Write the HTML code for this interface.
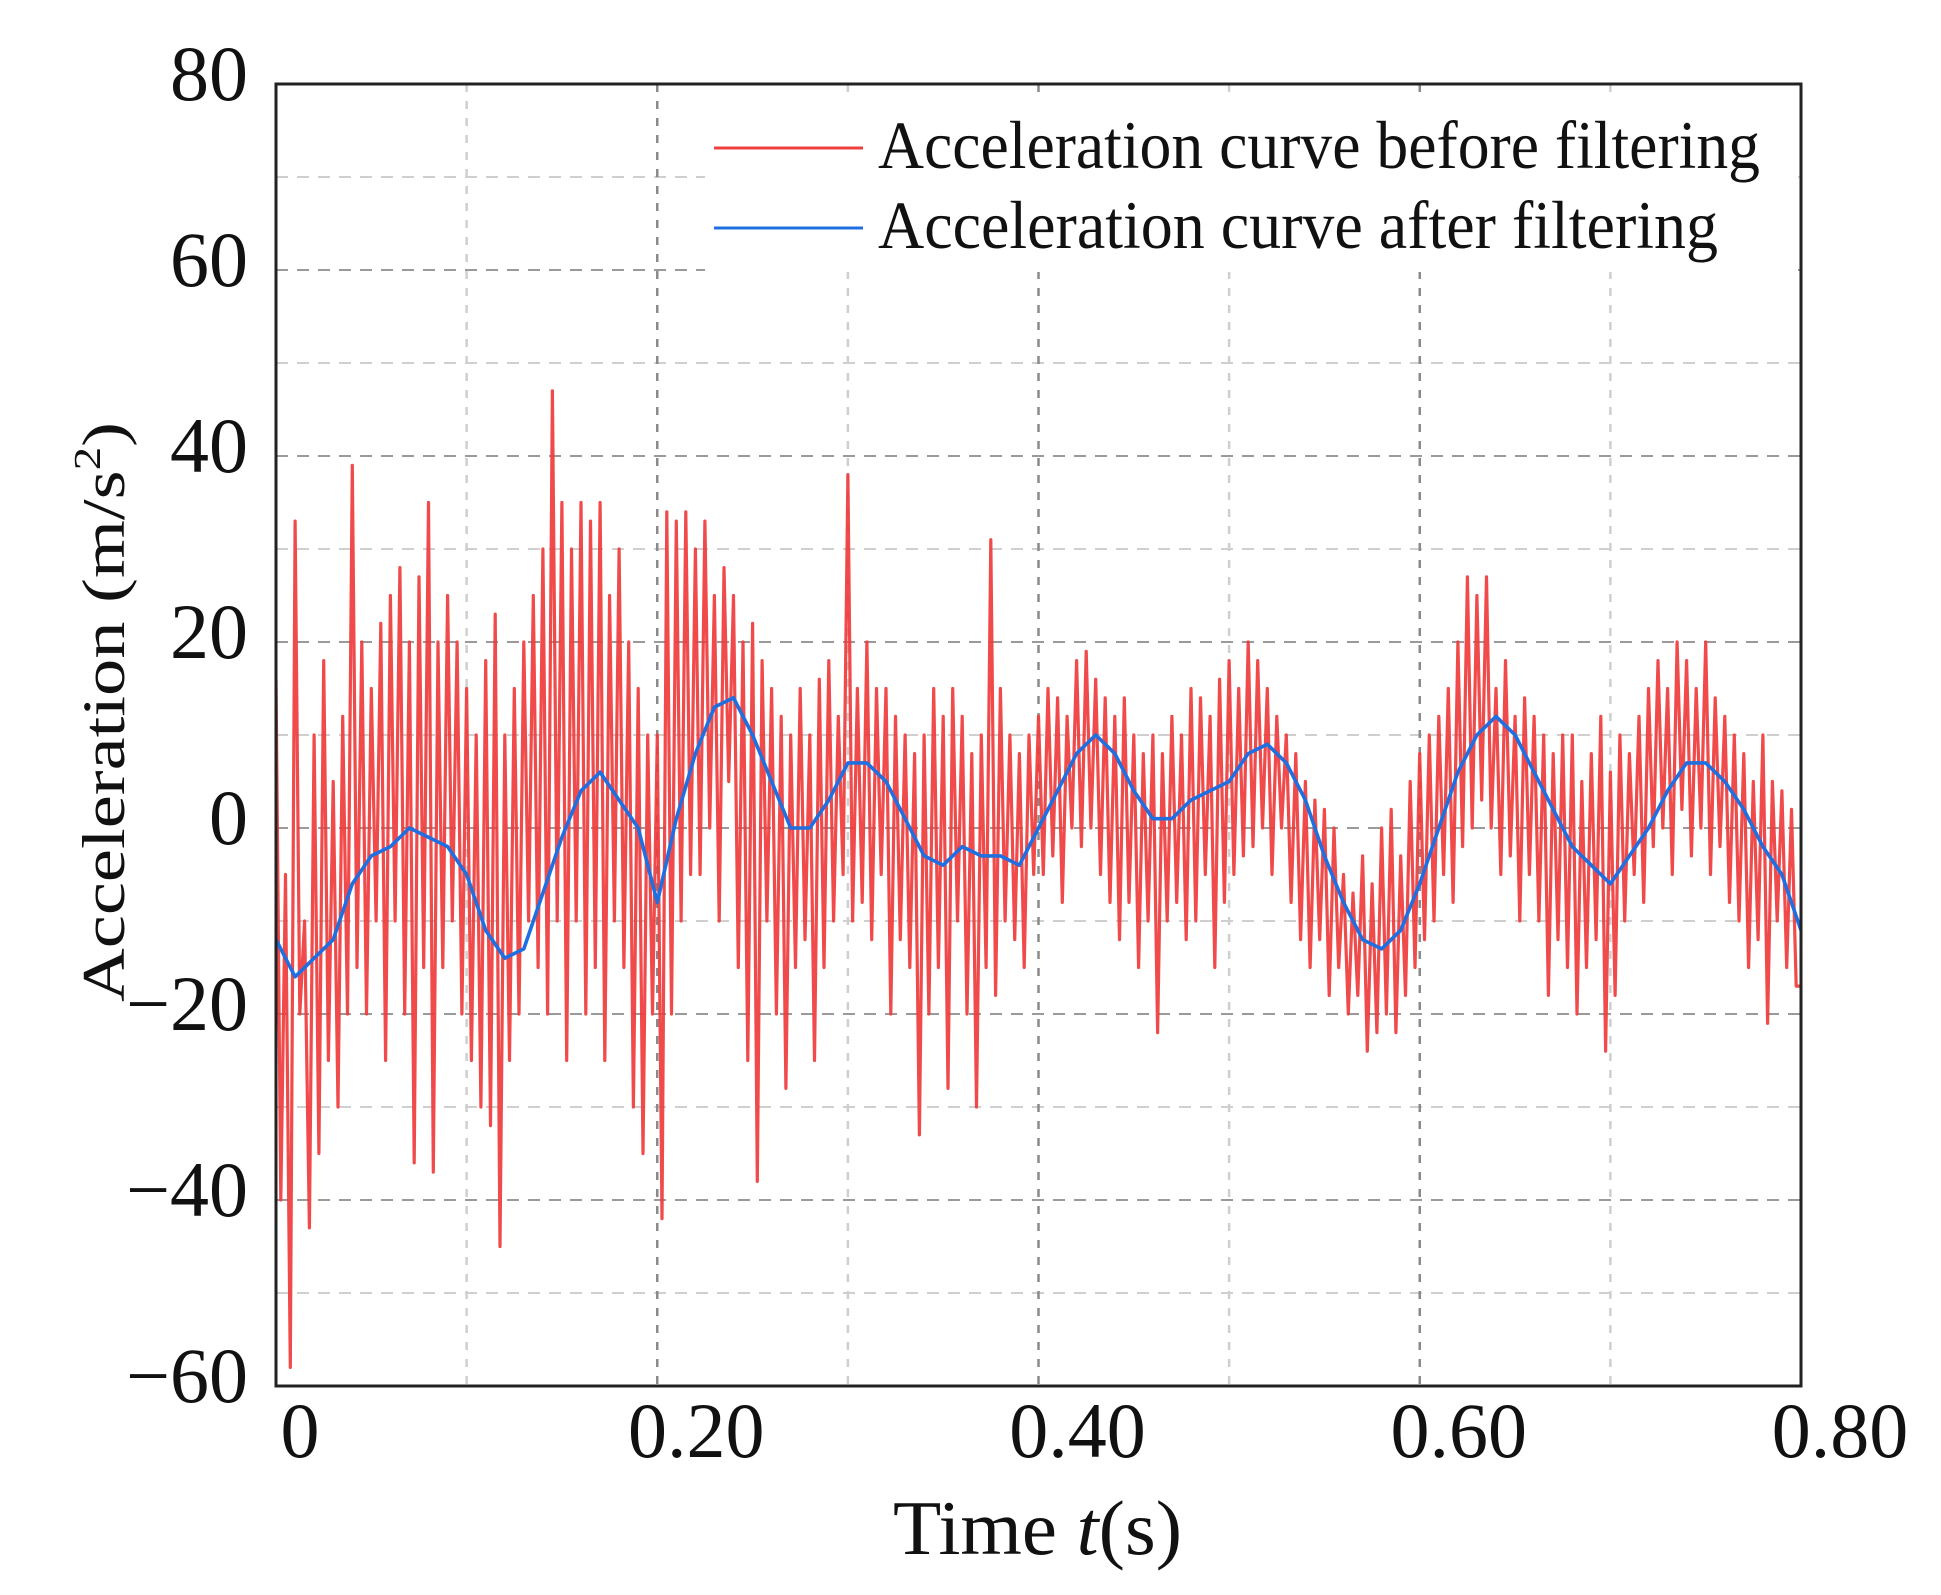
<!DOCTYPE html>
<html><head><meta charset="utf-8"><style>
html,body{margin:0;padding:0;background:#fff;}
svg{display:block;font-family:"Liberation Serif","Times New Roman",serif;}
</style></head><body>
<svg id="chart" width="1941" height="1595" viewBox="0 0 1941 1595" xmlns="http://www.w3.org/2000/svg">
<rect width="1941" height="1595" fill="#fff"/>
<g id="grid"></g>
<g id="series" clip-path="url(#clip)"></g>
<defs><clipPath id="clip"><rect x="276" y="84" width="1525" height="1302"/></clipPath></defs>
<rect x="705" y="92" width="1093" height="180" fill="#fff"/>
<rect x="276" y="84" width="1525" height="1302" fill="none" stroke="#222" stroke-width="3"/>
<g id="ticks"></g>
<g>
  <line x1="714" y1="148" x2="863" y2="148" stroke="#ef4040" stroke-width="3"/>
  <text x="878" y="168" font-size="68" textLength="882" lengthAdjust="spacingAndGlyphs" fill="#111">Acceleration curve before filtering</text>
  <line x1="714" y1="228" x2="863" y2="228" stroke="#1f6fe0" stroke-width="3"/>
  <text x="878" y="248" font-size="68" textLength="840" lengthAdjust="spacingAndGlyphs" fill="#111">Acceleration curve after filtering</text>
</g>
<text x="893" y="1554" font-size="77" textLength="289" lengthAdjust="spacingAndGlyphs" fill="#111">Time <tspan font-style="italic">t</tspan>(s)</text>
<text transform="translate(124,1002) rotate(-90)" x="0" y="0" font-size="60" textLength="580" lengthAdjust="spacingAndGlyphs" fill="#111">Acceleration (m/s<tspan dy="-24" font-size="38">2</tspan><tspan dy="24">)</tspan></text>
</svg>
<script>
const xTicks = [0, 0.2, 0.4, 0.6, 0.8];
const xTickLabels = ["0", "0.20", "0.40", "0.60", "0.80"];
const yTicks = [80, 60, 40, 20, 0, -20, -40, -60];
const yTickLabels = ["80", "60", "40", "20", "0", "\u221220", "\u221240", "\u221260"];
const rawStep = 0.0025;
const rawValues = [
16,-40,-5,-58,33,-20,-10,-43,
10,-35,18,-25,5,-30,12,-20,
39,-15,20,-20,15,-10,22,-25,
25,-10,28,-20,20,-36,27,-15,
35,-37,20,-15,25,-10,20,-20,
15,-25,10,-30,18,-32,23,-45,
10,-25,15,-20,20,-10,25,-15,
30,-20,47,-10,35,-25,30,-10,
35,-20,33,-15,35,-25,25,-10,
30,-15,20,-30,15,-35,10,-20,
10,-42,34,-20,33,-10,34,-5,
30,-5,33,0,25,-10,28,5,
25,-15,20,-25,22,-38,18,-10,
15,-20,12,-28,10,-15,15,-12,
10,-25,16,-15,18,-10,12,-5,
38,-10,15,-8,20,-12,15,-5,
15,-20,12,-12,10,-15,8,-33,
10,-20,15,-15,12,-28,15,-10,
12,-20,8,-30,10,-15,31,-18,
15,-10,10,-12,8,-15,10,-5,
12,-5,15,-3,14,-8,12,0,
18,-2,19,0,16,-5,14,-8,
12,-12,14,-8,10,-15,8,-10,
10,-22,8,-10,12,-8,10,-12,
15,-10,14,-5,12,-15,16,-8,
18,-5,15,-3,20,-2,18,0,
15,-5,12,0,10,-8,8,-12,
5,-15,3,-12,2,-18,0,-15,
-5,-20,-7,-18,-3,-24,-6,-22,
0,-20,2,-22,-3,-18,5,-15,
8,-12,10,-10,12,-5,15,-8,
20,-2,27,0,25,3,27,0,
15,-5,18,-3,12,-10,14,-5,
12,-10,10,-18,8,-12,10,-15,
10,-20,5,-15,8,-12,12,-24,
6,-18,10,-10,8,-5,12,-8,
15,-2,18,0,15,-5,20,2,
18,-3,15,0,20,-5,14,-2,
12,-8,10,-10,8,-15,5,-12,
10,-21,5,-10,4,-15,2,-17,-17
];
const filteredStep = 0.01;
const filteredValues = [
-12,-16,-14,-12,-6,-3,-2,0,-1,-2,
-5,-11,-14,-13,-7,-1,4,6,3,0,
-8,1,8,13,14,10,5,0,0,3,
7,7,5,1,-3,-4,-2,-3,-3,-4,
0,4,8,10,8,4,1,1,3,4,
5,8,9,7,3,-3,-8,-12,-13,-11,
-6,0,6,10,12,10,6,2,-2,-4,
-6,-3,0,4,7,7,5,2,-2,-5,-11
];
const X0=276, X1=1801, Y0=84, Y1=1386;
const xScale = t => X0 + (t - 0) / 0.8 * (X1 - X0);
const yScale = v => Y0 + (80 - v) / 140 * (Y1 - Y0);
const NS = "http://www.w3.org/2000/svg";
const grid = document.getElementById('grid');
const series = document.getElementById('series');
const ticks = document.getElementById('ticks');

for (let v = 70; v > -60; v -= 10) {
  const l = document.createElementNS(NS, 'line');
  
  
  const y = yScale(v);
  l.setAttribute('x1', X0); l.setAttribute('x2', X1);
  l.setAttribute('y1', y); l.setAttribute('y2', y);
  l.setAttribute('stroke', v % 20 === 0 ? '#9a9a9a' : '#cfcfcf');
  l.setAttribute('stroke-width', '2');
  l.setAttribute('stroke-dasharray', '12,9');
  grid.appendChild(l);
}
for (let i = 1; i < 8; i++) {
  const t = i * 0.1;
  const l = document.createElementNS(NS, 'line');
  
  
  const x = xScale(t);
  l.setAttribute('x1', x); l.setAttribute('x2', x);
  l.setAttribute('y1', Y0); l.setAttribute('y2', Y1);
  l.setAttribute('stroke', i % 2 === 0 ? '#8a8a8a' : '#cfcfcf');
  l.setAttribute('stroke-width', '2.5');
  l.setAttribute('stroke-dasharray', '8,9');
  grid.appendChild(l);
}

let d = '';
rawValues.forEach((v, i) => { d += (i ? 'L' : 'M') + xScale(i * rawStep).toFixed(1) + ',' + yScale(v).toFixed(1); });
const raw = document.createElementNS(NS, 'path');


raw.setAttribute('d', d);
raw.setAttribute('fill', 'none');
raw.setAttribute('stroke', '#ef3b3b');
raw.setAttribute('stroke-opacity', '0.92');
raw.setAttribute('stroke-width', '3.2');
raw.setAttribute('stroke-linejoin', 'round');
series.appendChild(raw);

let d2 = '';
filteredValues.forEach((v, i) => { d2 += (i ? 'L' : 'M') + xScale(i * filteredStep).toFixed(1) + ',' + yScale(v).toFixed(1); });
const filt = document.createElementNS(NS, 'path');


filt.setAttribute('d', d2);
filt.setAttribute('fill', 'none');
filt.setAttribute('stroke', '#1f6fe0');
filt.setAttribute('stroke-width', '3.6');
filt.setAttribute('stroke-linejoin', 'round');
series.appendChild(filt);

yTicks.forEach((v, i) => {
  const t = document.createElementNS(NS, 'text');
  
  
  t.setAttribute('x', 248);
  t.setAttribute('y', yScale(v) + 16);
  t.setAttribute('text-anchor', 'end');
  t.setAttribute('font-size', '78');
  t.setAttribute('fill', '#111');
  t.textContent = yTickLabels[i];
  ticks.appendChild(t);
});
xTicks.forEach((v, i) => {
  const t = document.createElementNS(NS, 'text');
  
  
  t.setAttribute('x', xScale(v) + (i === 0 ? 24 : 39));
  t.setAttribute('y', 1457);
  t.setAttribute('text-anchor', 'middle');
  t.setAttribute('font-size', '78');
  t.setAttribute('fill', '#111');
  t.textContent = xTickLabels[i];
  ticks.appendChild(t);
});
</script>
</body></html>
